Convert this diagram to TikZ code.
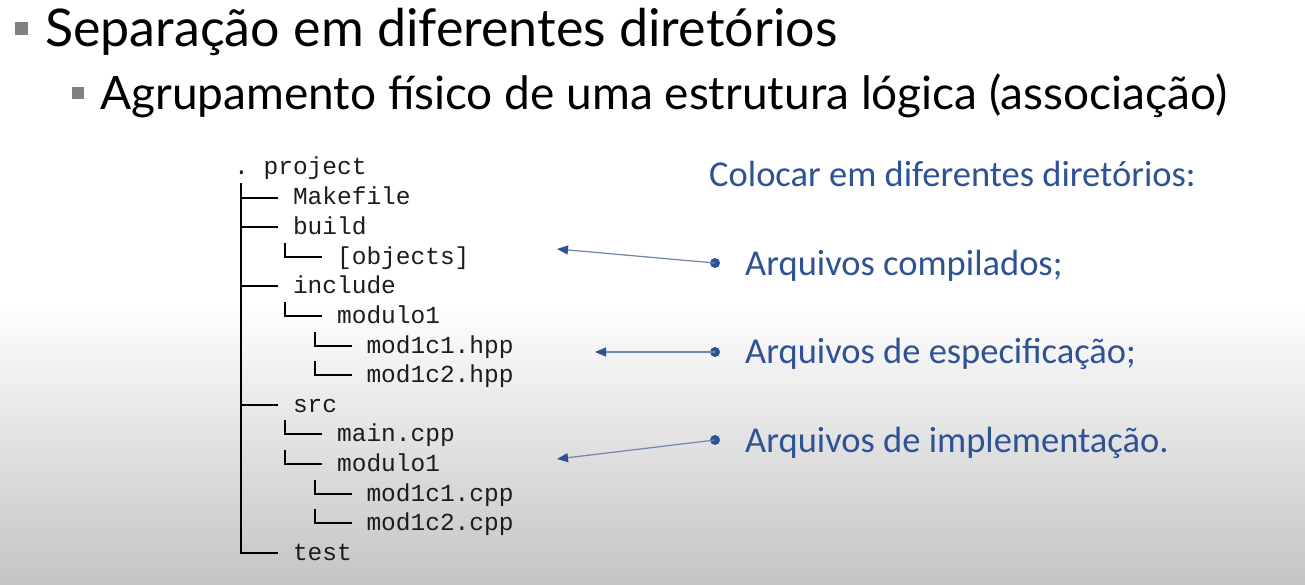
\documentclass[tikz,border=0pt]{standalone}
\usepackage{fontspec}
\setmainfont{Carlito}
\newfontfamily\titlefont{Lato}
\newfontfamily\treefont{Liberation Mono}
\usetikzlibrary{calc,arrows.meta}

\definecolor{slideblue}{RGB}{46,82,148}
\definecolor{shaftblue}{RGB}{112,132,172}
\definecolor{squaregray}{RGB}{128,128,128}
\definecolor{floorgray}{RGB}{196,196,196}
\definecolor{treeink}{RGB}{28,28,28}

\begin{document}
\begin{tikzpicture}[x=1pt,y=-1pt,
  title1/.style={anchor=base west,inner sep=0,font=\titlefont\fontsize{52}{60}\selectfont},
  title2/.style={anchor=base west,inner sep=0,font=\titlefont\fontsize{46}{54}\selectfont},
  sqbullet/.style={fill=squaregray,inner sep=0,minimum size=#1},
  entry/.style={anchor=base west,inner sep=0,text=treeink,font=\treefont\fontsize{24.5}{29}\selectfont},
  branch/.style={draw=black,line width=2pt},
  blue text/.style={anchor=base west,inner sep=0,text=slideblue,font=\fontsize{36.5}{44}\selectfont},
  dot/.style={circle,fill=slideblue,inner sep=0,minimum size=10pt},
  pointer/.style={draw=shaftblue,line width=1.2pt,
    -{Triangle[length=11pt,width=9pt,color=slideblue]}}
]
\def\cw{14.7}
\useasboundingbox (0,0) rectangle (1305,585);
\fill[white] (0,0) rectangle (1305,585);
\shade[top color=white,bottom color=floorgray] (0,300) rectangle (1305,585);

% headings
\node[sqbullet=13pt] (sq1) at (21.5,28.5) {};
\node[title1] (t1) at (45,47) {Separação em diferentes diretórios};
\node[sqbullet=12pt] (sq2) at (77.5,93) {};
\node[title2] (t2) at (100,110) {Agrupamento físico de uma estrutura lógica (associação)};

% directory tree
\node[entry] (root)  at (234,175)          {.\hspace*{\cw pt}project};
\node[entry] (mk)    at (234+4*\cw,205)   {Makefile};
\node[entry] (bld)   at (234+4*\cw,234)   {build};
\node[entry] (obj)   at (234+7*\cw,264)   {[objects]};
\node[entry] (inc)   at (234+4*\cw,293)   {include};
\node[entry] (incm)  at (234+7*\cw,323)   {modulo1};
\node[entry] (h1)    at (234+9*\cw,353)   {mod1c1.hpp};
\node[entry] (h2)    at (234+9*\cw,382)   {mod1c2.hpp};
\node[entry] (src)   at (234+4*\cw,412)   {src};
\node[entry] (mainc) at (234+7*\cw,441)   {main.cpp};
\node[entry] (srcm)  at (234+7*\cw,471)   {modulo1};
\node[entry] (c1)    at (234+9*\cw,501)   {mod1c1.cpp};
\node[entry] (c2)    at (234+9*\cw,530)   {mod1c2.cpp};
\node[entry] (tst)   at (234+4*\cw,560)   {test};

% trunk from the root down to the last entry
\draw[branch] ($(root.base west)+(0.5*\cw,8)$) |- ($(tst.base west)+(-\cw,-7)$);
\foreach \n in {mk,bld,inc,src}
  \draw[branch] ($(\n.base west)+(-3.5*\cw,-7)$) -- ($(\n.base west)+(-\cw,-7)$);
% nested elbows
\foreach \n in {obj,incm,h1,h2,mainc,srcm,c1,c2}
  \draw[branch] ($(\n.base west)+(-3.5*\cw,-21)$) |- ($(\n.base west)+(-\cw,-7)$);

% right-hand list
\node[blue text] (hd) at (709,187) {Colocar em diferentes diretórios:};
\node[dot] (b1) at (715,263) {};
\node[dot] (b2) at (715,352) {};
\node[dot] (b3) at (715,440) {};
\node[blue text] (l1) at (745,275) {Arquivos compilados;};
\node[blue text] (l2) at (745,363.5) {Arquivos de especificação;};
\node[blue text] (l3) at (745,452) {Arquivos de implementação.};

\coordinate (p1) at (557,249);
\coordinate (p2) at (595,352);
\coordinate (p3) at (557,459);
\draw[pointer] (b1.center) -- (p1);
\draw[pointer] (b2.center) -- (p2);
\draw[pointer] (b3.center) -- (p3);
\end{tikzpicture}
\end{document}
